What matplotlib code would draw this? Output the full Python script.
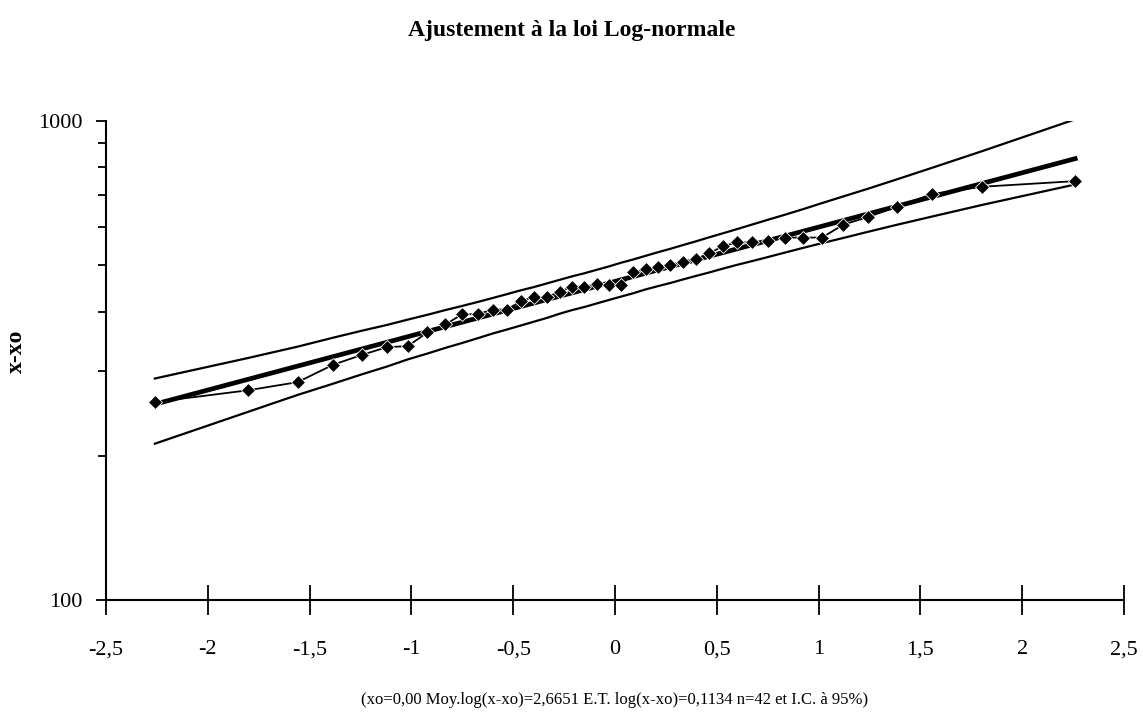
import numpy as np
import matplotlib
matplotlib.use('Agg')
import matplotlib.pyplot as plt
from matplotlib.ticker import FixedLocator, NullFormatter


# %% data

# normal quantiles of the 42 sorted values (Hazen positions)
z = [-2.260, -1.803, -1.559, -1.383, -1.242, -1.122, -1.017, -0.921, -0.833, -0.751,
     -0.674, -0.601, -0.531, -0.464, -0.399, -0.335, -0.272, -0.210, -0.150, -0.090,
     -0.030, 0.030, 0.090, 0.150, 0.210, 0.272, 0.335, 0.399, 0.464, 0.531,
     0.601, 0.674, 0.751, 0.833, 0.921, 1.017, 1.122, 1.242, 1.383, 1.559,
     1.803, 2.260]

# observed x-xo, sorted
obs = [259, 274, 285, 310, 325, 337, 339, 362, 376, 395,
       395, 404, 404, 420, 429, 429, 440, 451, 451, 456,
       454, 454, 483, 490, 496, 501, 508, 515, 530, 548,
       558, 558, 562, 571, 571, 571, 608, 630, 662, 704,
       729, 749]

# 95% confidence band
ic_up = [290, 320, 338, 353, 365, 375, 385, 394, 403, 411,
         419, 427, 435, 443, 450, 458, 466, 474, 481, 489,
         497, 506, 514, 523, 532, 541, 551, 561, 572, 583,
         595, 608, 622, 637, 654, 674, 696, 722, 755, 799,
         865, 1008]
ic_low = [212, 247, 268, 283, 296, 307, 318, 327, 336, 344,
          352, 360, 367, 374, 381, 388, 396, 403, 409, 416,
          423, 430, 437, 445, 452, 459, 467, 475, 483, 492,
          501, 510, 520, 531, 543, 556, 570, 587, 607, 632,
          668, 737]

moy_log = 2.6651
et_log = 0.1134
xo = 0.00
n = 42

xticks = [-2.5, -2, -1.5, -1, -0.5, 0, 0.5, 1, 1.5, 2, 2.5]
xticklabels = ['-2,5', '-2', '-1,5', '-1', '-0,5', '0', '0,5', '1', '1,5', '2', '2,5']


# %% fitted line

z = np.array(z)
fit = 10 ** (moy_log + et_log * z)


def virgule(v, nd):
    return ('%.*f' % (nd, v)).replace('.', ',')


# %% plot

plt.rcParams['font.family'] = ['Liberation Serif', 'DejaVu Serif']

fig = plt.figure(figsize=(11.43, 7.2), dpi=100)
ax = fig.add_axes([106 / 1143, 1 - 600 / 720, (1124 - 106) / 1143, (600 - 121) / 720])

ax.plot(z, ic_up, color='black', lw=1.6)
ax.plot(z, ic_low, color='black', lw=1.6)
ax.plot(z, fit, color='black', lw=3.4)
ax.plot(z, obs, color='black', lw=1.3, marker='D', ms=7, mfc='black', mec='white', mew=0.6)

ax.set_yscale('log')
ax.set_ylim(100, 1000)
ax.set_xlim(-2.5, 2.5)

ax.yaxis.set_major_locator(FixedLocator([100, 1000]))
ax.yaxis.set_minor_locator(FixedLocator([200, 300, 400, 500, 600, 700, 800, 900]))
ax.yaxis.set_minor_formatter(NullFormatter())
ax.set_yticklabels(['100', '1000'])
ax.set_xticks(xticks)
ax.set_xticklabels(xticklabels)

for side in ['top', 'right']:
    ax.spines[side].set_visible(False)
for side in ['left', 'bottom']:
    ax.spines[side].set_linewidth(1.5)

ax.tick_params(axis='x', direction='inout', length=22, width=1.3, labelsize=16, pad=18)
ax.tick_params(axis='y', which='major', direction='out', length=7, width=1.3, labelsize=16, pad=10)
ax.tick_params(axis='y', which='minor', direction='out', length=6, width=1.3)

ax.set_ylabel('x-xo', fontsize=17, fontweight='bold')
ax.yaxis.set_label_coords(-0.078, 0.52)

fig.text(0.5, 0.957, 'Ajustement à la loi Log-normale', ha='center', va='center',
         fontsize=17, fontweight='bold')
fig.text(615 / 1143, 1 - 700 / 720,
         '(xo=%s Moy.log(x-xo)=%s E.T. log(x-xo)=%s n=%d et I.C. à 95%%)'
         % (virgule(xo, 2), virgule(moy_log, 4), virgule(et_log, 4), n),
         ha='center', va='center', fontsize=12)

plt.savefig('out.png', dpi=100)
